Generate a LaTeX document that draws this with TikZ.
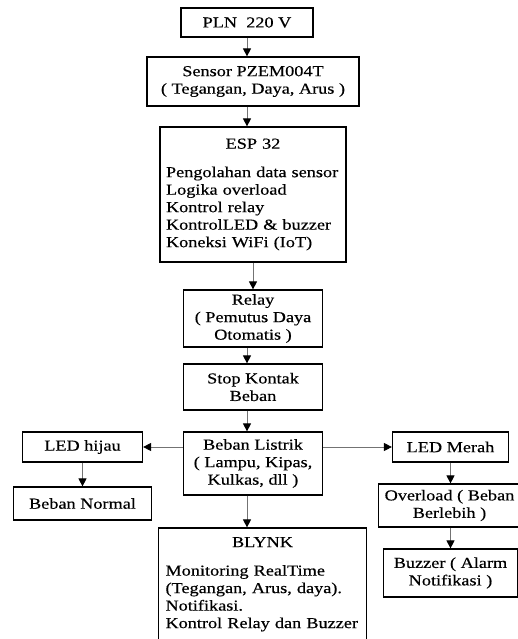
\documentclass[tikz,border=0pt]{standalone}
\usepackage{fontspec}
\setmainfont{Liberation Serif}[FakeStretch=1.2, FakeBold=0.4]
\usepackage{tikz}
\usetikzlibrary{arrows.meta}

\tikzset{
  blok/.style={draw, line width=1.2pt, rectangle, inner sep=0pt, align=center},
  panah/.style={draw=black!55, line width=0.9pt, -{Triangle[length=8pt,width=8pt,black]}},
}

\begin{document}
\begin{tikzpicture}[x=1pt, y=1pt, node distance=60pt,
    every node/.style={font=\fontsize{15.2pt}{17.5pt}\selectfont}]
			\useasboundingbox (0,0) rectangle (517,-639);

			\node[blok, minimum width=132pt, minimum height=29pt] (pln) at (247,-22.5) {PLN\ \ 220 V};
			\node[blok, minimum width=212pt, minimum height=49pt] (sensor) [below of=pln, node distance=59pt, xshift=6pt] {Sensor PZEM004T\\( Tegangan, Daya, Arus )};
			\node[blok, minimum width=186pt, minimum height=135pt, text width=174pt, align=left] (esp) [below of=sensor, node distance=113pt]
			{\null\hfill ESP 32\hfill\null\\[11pt]
			Pengolahan data sensor\\ Logika overload\\ Kontrol relay\\ KontrolLED \& buzzer\\ Koneksi WiFi (IoT)};
			\node[blok, minimum width=139pt, minimum height=57pt] (relay) [below of=esp, node distance=124pt] {Relay\\( Pemutus Daya\\Otomatis )};
			\node[blok, minimum width=139pt, minimum height=46pt] (stop) [below of=relay, node distance=68.5pt] {Stop Kontak\\Beban};
			\node[blok, minimum width=139pt, minimum height=63pt] (beban) [below of=stop, node distance=76.5pt] {Beban Listrik\\( Lampu, Kipas,\\Kulkas, dll )};
			\node[blok, minimum width=208pt, minimum height=112.5pt, text width=194pt, align=left] (blynk) [below of=beban, node distance=120.75pt, xshift=9.5pt]
			{\null\hfill BLYNK\hfill\null\\[11pt]
			Monitoring RealTime\\ (Tegangan, Arus, daya).\\ Notifikasi.\\ Kontrol Relay dan Buzzer};

			\node[blok, minimum width=120pt, minimum height=30pt] (hijau) [left of=beban, node distance=170.5pt, yshift=16.5pt] {LED hijau};
			\node[blok, minimum width=138pt, minimum height=33pt] (normal) [below of=hijau, node distance=56.5pt] {Beban Normal};
			\node[blok, minimum width=116pt, minimum height=30pt] (merah) [right of=beban, node distance=197.5pt, yshift=16.5pt] {LED Merah};
			\node[blok, minimum width=142pt, minimum height=43pt] (overload) [below of=merah, node distance=58.5pt, xshift=-1pt] {Overload ( Beban\\Berlebih )};
			\node[blok, minimum width=134pt, minimum height=48pt] (buzzer) [below of=overload, node distance=67.5pt, xshift=1pt] {Buzzer ( Alarm\\Notifikasi )};

			\draw[panah] (pln.south) -- (pln.south |- sensor.north);
			\draw[panah] (sensor.south -| pln) -- (esp.north -| pln);
			\draw[panah] (esp.south) -- (esp.south |- relay.north);
			\draw[panah] (relay.south -| pln) -- (stop.north -| pln);
			\draw[panah] (stop.south -| pln) -- (beban.north -| pln);
			\draw[panah] (beban.south -| pln) -- (blynk.north -| pln);
			\draw[panah] (beban.west |- hijau) -- (hijau.east);
			\draw[panah] (beban.east |- merah) -- (merah.west);
			\draw[panah] (hijau) -- (normal);
			\draw[panah] (merah.south) -- (merah.south |- overload.north);
			\draw[panah] (overload.south -| merah) -- (buzzer.north -| merah);
		\end{tikzpicture}
\end{document}
